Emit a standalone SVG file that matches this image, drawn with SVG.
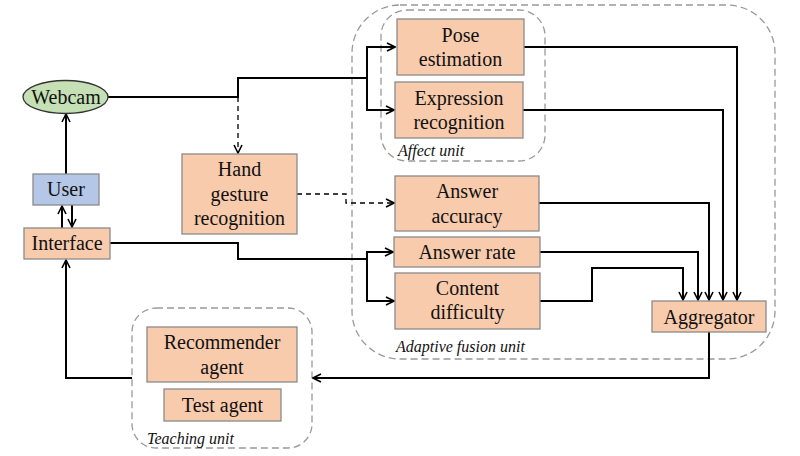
<svg xmlns="http://www.w3.org/2000/svg" width="800" height="456" viewBox="0 0 800 456">
<style>
.box{fill:#f8cbad;stroke:#8a8a8a;stroke-width:1.3}
.t{font-size:20px;fill:#111;text-anchor:middle}
.lbl{font-size:16px;font-style:italic;fill:#111}
.unit{fill:none;stroke:#999;stroke-width:1.3;stroke-dasharray:7,4}
.c{fill:none;stroke:#000;stroke-width:2}
.d{fill:none;stroke:#000;stroke-width:1.3;stroke-dasharray:5,4}
</style>
<defs>
<marker id="a" viewBox="0 0 10 10" refX="9" refY="5" markerWidth="10" markerHeight="10" markerUnits="userSpaceOnUse" orient="auto">
<path d="M1,1 L9,5 L1,9" fill="none" stroke="#000" stroke-width="1.6"/>
</marker>
</defs>
<rect width="800" height="456" fill="#fff"/>
<g font-family="'Liberation Serif', 'Times New Roman', 'DejaVu Serif', serif">
<g id="adaptive-fusion-unit">
<rect class="unit" x="352" y="5" width="423" height="354" rx="48"/>
<text class="lbl" x="396" y="352">Adaptive fusion unit</text>
</g>
<g id="affect-unit">
<rect class="unit" x="381" y="10" width="164" height="151" rx="26"/>
<text class="lbl" x="398" y="156">Affect unit</text>
</g>
<g id="teaching-unit">
<rect class="unit" x="132" y="308" width="180" height="140" rx="24"/>
<text class="lbl" x="147" y="444">Teaching unit</text>
</g>
<g id="connectors">
<polyline class="c" points="108,97 238,97 238,78 367,78"/>
<polyline class="c" points="367,78 367,47 395,47" marker-end="url(#a)"/>
<polyline class="c" points="367,78 367,110 394,110" marker-end="url(#a)"/>
<polyline class="d" points="238,97 238,153" marker-end="url(#a)"/>
<polyline class="d" points="297,194 346,194 346,203 394,203" marker-end="url(#a)"/>
<polyline class="c" points="110,243 238,243 238,259 367,259"/>
<polyline class="c" points="367,259 367,252 393,252" marker-end="url(#a)"/>
<polyline class="c" points="367,259 367,301 394,301" marker-end="url(#a)"/>
<polyline class="c" points="524,47 737,47 737,300" marker-end="url(#a)"/>
<polyline class="c" points="523,110 723,110 723,300" marker-end="url(#a)"/>
<polyline class="c" points="539,203 709,203 709,300" marker-end="url(#a)"/>
<polyline class="c" points="540,252 698,252 698,300" marker-end="url(#a)"/>
<polyline class="c" points="540,301 592,301 592,268 683,268 683,300" marker-end="url(#a)"/>
<polyline class="c" points="709,332 709,378 313,378" marker-end="url(#a)"/>
<polyline class="c" points="132,378 66,378 66,260" marker-end="url(#a)"/>
<polyline class="c" points="66,174 66,114" marker-end="url(#a)"/>
<polyline class="c" points="62,228 62,206" marker-end="url(#a)"/>
<polyline class="c" points="72,205 72,227" marker-end="url(#a)"/>
</g>
<g id="webcam">
<ellipse cx="65.5" cy="97" rx="42.5" ry="16.5" fill="#c5e0b4" stroke="#333" stroke-width="1.3"/>
<text class="t" x="66" y="104">Webcam</text>
</g>
<g id="user">
<rect x="33" y="174" width="66" height="31" fill="#b4c7e7" stroke="#8a8a8a" stroke-width="1.3"/>
<text class="t" x="66" y="196">User</text>
</g>
<g id="interface">
<rect class="box" x="24" y="228" width="86" height="31"/>
<text class="t" x="67" y="250">Interface</text>
</g>
<g id="hand-gesture">
<rect class="box" x="182" y="154" width="115" height="80"/>
<text class="t" x="239.5" y="176">Hand</text>
<text class="t" x="239.5" y="201">gesture</text>
<text class="t" x="239.5" y="225">recognition</text>
</g>
<g id="pose">
<rect class="box" x="397" y="19" width="127" height="56"/>
<text class="t" x="460.5" y="42">Pose</text>
<text class="t" x="460.5" y="66">estimation</text>
</g>
<g id="expression">
<rect class="box" x="395" y="82" width="128" height="56"/>
<text class="t" x="459" y="105">Expression</text>
<text class="t" x="459" y="129">recognition</text>
</g>
<g id="answer-accuracy">
<rect class="box" x="395" y="176" width="144" height="55"/>
<text class="t" x="467" y="198">Answer</text>
<text class="t" x="467" y="223">accuracy</text>
</g>
<g id="answer-rate">
<rect class="box" x="394" y="237" width="146" height="30"/>
<text class="t" x="467" y="259">Answer rate</text>
</g>
<g id="content-difficulty">
<rect class="box" x="395" y="273" width="145" height="56"/>
<text class="t" x="467.5" y="295">Content</text>
<text class="t" x="467.5" y="319">difficulty</text>
</g>
<g id="aggregator">
<rect class="box" x="652" y="301" width="114" height="31"/>
<text class="t" x="709" y="324">Aggregator</text>
</g>
<g id="recommender">
<rect class="box" x="147" y="327" width="150" height="55"/>
<text class="t" x="222" y="349">Recommender</text>
<text class="t" x="222" y="374">agent</text>
</g>
<g id="test-agent">
<rect class="box" x="164" y="389" width="117" height="32"/>
<text class="t" x="222.5" y="412">Test agent</text>
</g>
</g>
</svg>
